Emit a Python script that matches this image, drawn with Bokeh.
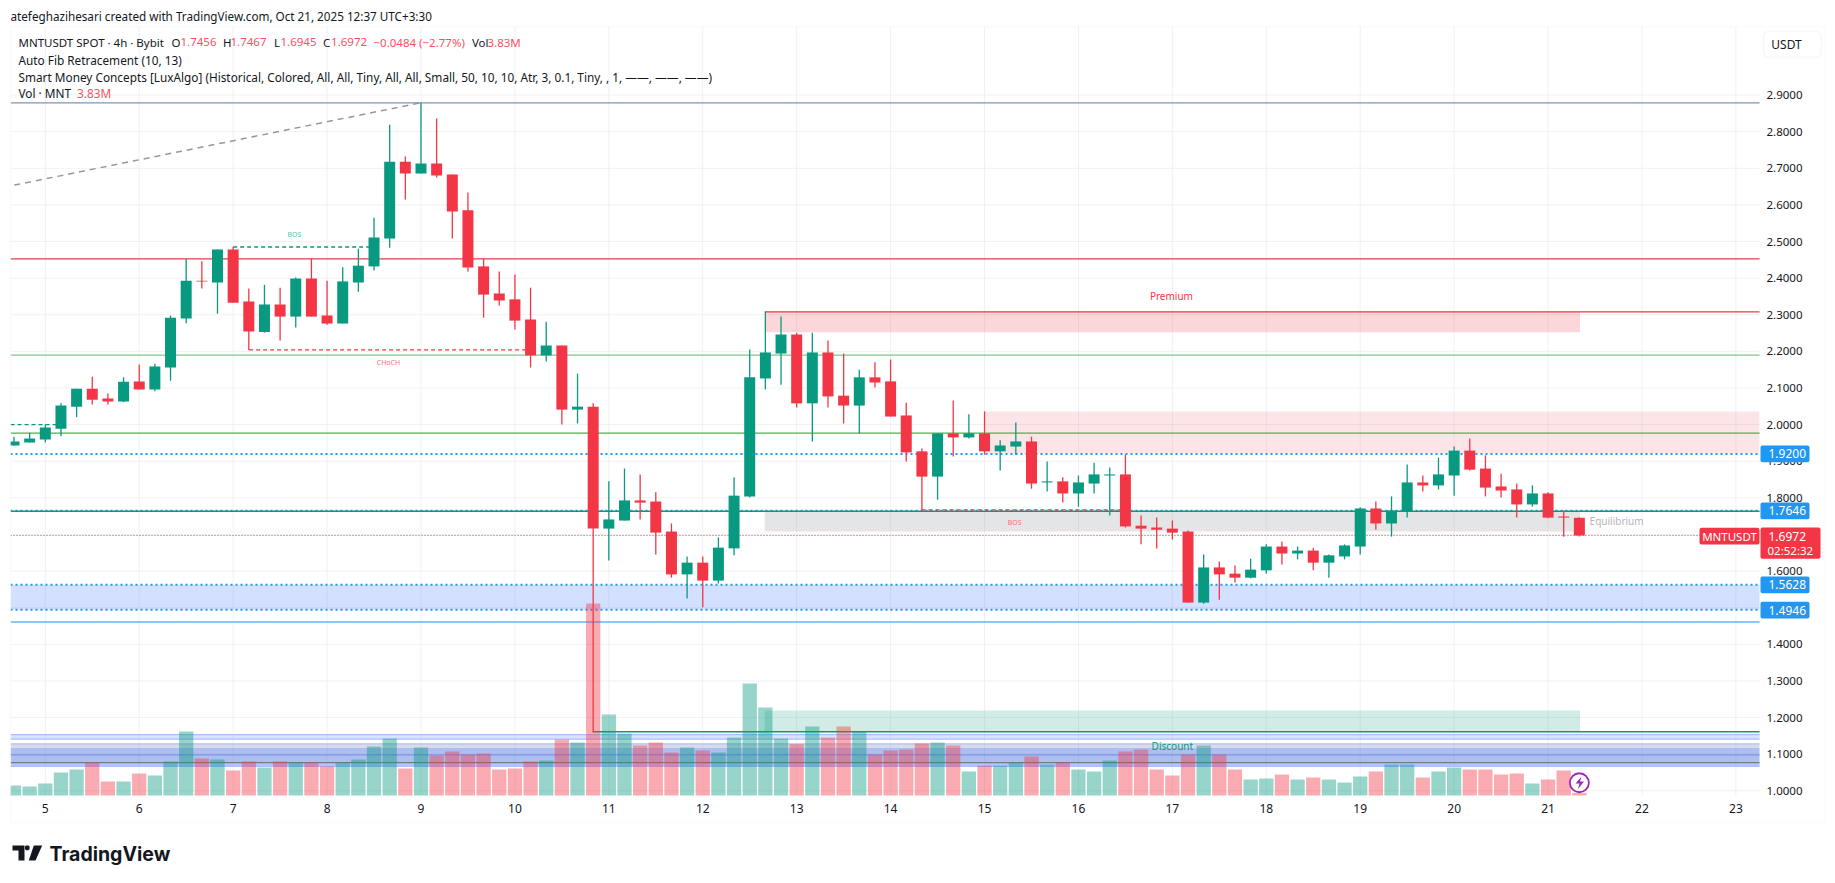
from bokeh.core.properties import value
from bokeh.embed import file_html
from bokeh.models import (BoxAnnotation, FixedTicker, Label, NumeralTickFormatter,
                          PolyAnnotation, Range1d)
from bokeh.plotting import figure
from bokeh.resources import INLINE

# 4h candles, first bar is Oct 4 on the day axis
opens = [1.943, 1.951, 1.959, 1.989, 2.049, 2.098, 2.071, 2.063, 2.118, 2.096, 2.156, 2.290,
         2.393, 2.388, 2.478, 2.336, 2.253, 2.328, 2.295, 2.399, 2.298, 2.276, 2.388, 2.432,
         2.508, 2.718, 2.686, 2.713, 2.683, 2.585, 2.432, 2.358, 2.342, 2.287, 2.189, 2.216,
         2.041, 2.049, 1.716, 1.738, 1.793, 1.790, 1.708, 1.591, 1.623, 1.574, 1.662, 1.804,
         2.126, 2.194, 2.246, 2.058, 2.197, 2.079, 2.052, 2.129, 2.118, 2.025, 1.927, 1.858,
         1.976, 1.965, 1.976, 1.927, 1.940, 1.954, 1.842, 1.845, 1.812, 1.839, 1.861, 1.864,
         1.724, 1.719, 1.716, 1.708, 1.514, 1.610, 1.593, 1.582, 1.602, 1.667, 1.648, 1.656,
         1.623, 1.640, 1.667, 1.771, 1.730, 1.763, 1.842, 1.834, 1.861, 1.929, 1.880, 1.831,
         1.823, 1.782, 1.812, 1.749, 1.7456]
highs = [1.967, 1.978, 2.000, 2.058, 2.098, 2.131, 2.085, 2.129, 2.164, 2.166, 2.298, 2.453,
         2.446, 2.478, 2.486, 2.372, 2.382, 2.374, 2.402, 2.453, 2.393, 2.430, 2.480, 2.565,
         2.819, 2.732, 2.879, 2.836, 2.683, 2.634, 2.453, 2.418, 2.410, 2.374, 2.281, 2.216,
         2.139, 2.058, 1.845, 1.880, 1.864, 1.815, 1.730, 1.640, 1.640, 1.692, 1.856, 2.205,
         2.308, 2.295, 2.251, 2.251, 2.230, 2.194, 2.150, 2.170, 2.178, 2.060, 1.935, 1.976,
         2.066, 2.028, 2.036, 1.957, 2.006, 1.967, 1.899, 1.856, 1.861, 1.896, 1.883, 1.918,
         1.752, 1.746, 1.738, 1.711, 1.645, 1.626, 1.615, 1.634, 1.673, 1.681, 1.667, 1.664,
         1.645, 1.673, 1.774, 1.790, 1.804, 1.891, 1.861, 1.910, 1.940, 1.962, 1.916, 1.866,
         1.839, 1.834, 1.815, 1.765, 1.7467]
lows = [1.943, 1.951, 1.951, 1.968, 2.020, 2.055, 2.055, 2.061, 2.096, 2.091, 2.120, 2.277,
        2.372, 2.303, 2.333, 2.204, 2.251, 2.230, 2.265, 2.295, 2.273, 2.276, 2.363, 2.421,
        2.483, 2.615, 2.686, 2.675, 2.508, 2.418, 2.292, 2.325, 2.260, 2.156, 2.172, 2.000,
        2.003, 1.160, 1.629, 1.738, 1.741, 1.645, 1.582, 1.525, 1.501, 1.566, 1.643, 1.801,
        2.096, 2.109, 2.047, 1.954, 2.047, 2.003, 1.976, 2.101, 2.022, 1.899, 1.765, 1.795,
        1.913, 1.962, 1.918, 1.875, 1.918, 1.825, 1.817, 1.787, 1.776, 1.812, 1.752, 1.719,
        1.673, 1.662, 1.686, 1.514, 1.511, 1.522, 1.569, 1.580, 1.593, 1.618, 1.632, 1.602,
        1.582, 1.632, 1.645, 1.713, 1.694, 1.746, 1.817, 1.823, 1.806, 1.875, 1.804, 1.801,
        1.746, 1.776, 1.744, 1.694, 1.6945]
closes = [1.954, 1.962, 1.992, 2.052, 2.098, 2.068, 2.063, 2.117, 2.096, 2.159, 2.292, 2.393,
          2.391, 2.478, 2.333, 2.254, 2.328, 2.295, 2.399, 2.295, 2.276, 2.391, 2.434, 2.511,
          2.718, 2.686, 2.713, 2.680, 2.582, 2.429, 2.355, 2.339, 2.284, 2.189, 2.216, 2.041,
          2.049, 1.716, 1.741, 1.793, 1.787, 1.705, 1.591, 1.623, 1.574, 1.664, 1.806, 2.129,
          2.197, 2.246, 2.058, 2.197, 2.077, 2.052, 2.129, 2.115, 2.022, 1.924, 1.858, 1.976,
          1.965, 1.976, 1.927, 1.943, 1.954, 1.839, 1.845, 1.812, 1.842, 1.864, 1.864, 1.722,
          1.716, 1.713, 1.705, 1.514, 1.610, 1.591, 1.582, 1.604, 1.667, 1.648, 1.656, 1.623,
          1.643, 1.670, 1.771, 1.730, 1.765, 1.842, 1.834, 1.864, 1.929, 1.877, 1.828, 1.820,
          1.782, 1.812, 1.746, 1.746, 1.6972]
volumes = [14.4, 13.0, 17.3, 33.1, 37.4, 47.0, 20.2, 20.2, 31.7, 28.8, 49.0, 92.2,
           53.3, 51.8, 36.0, 49.0, 40.3, 49.0, 47.5, 47.5, 42.2, 47.5, 51.8, 70.6,
           82.1, 38.9, 69.1, 57.6, 63.4, 59.0, 60.5, 37.4, 38.9, 49.0, 50.4, 80.6,
           76.3, 276.5, 116.6, 89.3, 72.0, 76.3, 61.9, 69.1, 64.8, 61.9, 83.5, 161.3,
           126.7, 82.1, 73.9, 99.4, 83.5, 99.4, 92.2, 59.0, 64.8, 66.2, 74.9, 76.3,
           72.0, 34.6, 43.2, 43.2, 47.5, 56.2, 44.6, 47.5, 37.4, 34.6, 50.4, 63.4,
           66.2, 37.4, 28.8, 59.0, 72.0, 59.0, 37.4, 23.0, 24.5, 30.2, 23.0, 25.9,
           23.0, 18.7, 27.4, 34.6, 44.6, 44.6, 25.9, 34.6, 40.3, 37.4, 37.4, 30.2,
           31.7, 17.3, 23.0, 36.0, 3.83]

price_ticks = [1.0, 1.1, 1.2, 1.3, 1.4, 1.5, 1.6, 1.7, 1.8, 1.9, 2.0, 2.1, 2.2, 2.3, 2.4,
               2.5, 2.6, 2.7, 2.8, 2.9]
day_ticks = [5, 6, 7, 8, 9, 10, 11, 12, 13, 14, 15, 16, 17, 18, 19, 20, 21, 22, 23]

# solid horizontal levels that run across the pane
level_prices = [2.8786, 2.4525, 2.190, 1.977, 1.461, 1.098, 1.077]
level_colors = ["#8290c0", "#f23645", "#81c784", "#4caf50", "#64b5f6", "#7d97e6", "#787b86"]
# dotted order lines
dotted_prices = [1.9200, 1.7658, 1.5628, 1.4946]
dotted_widths = [2, 1.2, 2, 2]

# smart money zones: start day, end day, top, bottom
zone_left = [12.66, 15.0, 12.66, 12.66]
zone_right = [21.34, 23.25, 21.34, 21.34]
zone_top = [2.308, 2.036, 1.763, 1.219]
zone_bottom = [2.2525, 1.921, 1.708, 1.161]
zone_colors = ["#f23645", "#f23645", "#787b86", "#089981"]
zone_alphas = [0.2, 0.13, 0.2, 0.19]

# blue fib bands on the whole width
band_top = [1.5628, 1.1537, 1.128, 1.117, 1.077]
band_bottom = [1.4946, 1.141, 1.117, 1.077, 1.067]
band_colors = ["#2962ff", "#2962ff", "#5b6fc0", "#2a55d8", "#2962ff"]
band_alphas = [0.2, 0.18, 0.25, 0.38, 0.36]
band_edges = [1.1537, 1.141, 1.128, 1.067]
band_edge_colors = ["#a9c1fb", "#a9c1fb", "#b4bfe0", "#a9c1fb"]

# dashed structure lines
dash_x0 = [4.63, 7.0, 7.17, 14.33]
dash_x1 = [5.17, 8.5, 10.17, 16.5]
dash_price = [2.000, 2.485, 2.204, 1.767]
dash_colors = ["#089981", "#089981", "#f23645", "#f23645"]

trend_days = [4.67, 9.0]
trend_prices = [2.654, 2.879]

note_texts = ["BOS", "CHoCH", "BOS", "Premium", "Equilibrium", "Discount"]
note_days = [7.653, 8.654, 15.32, 16.99, 21.73, 17.0]
note_prices = [2.519, 2.170, 1.733, 2.351, 1.736, 1.122]
note_sizes = ["7px", "7px", "7px", "10px", "10px", "10px"]
note_colors = ["#5cbdae", "#f7707c", "#f7707c", "#f23645", "#b2b5be", "#089981"]

bar_days = [4 + 4 / 6 + i / 6 for i in range(len(opens))]
tops = [max(o, c) for o, c in zip(opens, closes)]
bottoms = [min(o, c) for o, c in zip(opens, closes)]
colors = ["#089981" if c >= o else "#f23645" for o, c in zip(opens, closes)]

FONT = "Noto Sans"
GRID = "#f0f1f3"
X0, X1 = 4.6295, 23.2519  # pane edges
Y0, Y1 = 0.9872, 3.0871

# the frame is the whole page so that the header and the price tags are not cut off,
# the axes sit on its far edges and pull their labels back in with a negative standoff
p = figure(width=1835, height=883, x_range=(4.523, 24.0605), y_range=(0.7469, 3.1581),
           output_backend="svg", toolbar_location=None, y_axis_location="right",
           min_border=0, background_fill_color="white", border_fill_color="white",
           outline_line_color=None)

p.extra_y_ranges = {"vol": Range1d(-126.7, 1144.8)}

p.xaxis.ticker = FixedTicker(ticks=day_ticks)
p.yaxis.ticker = FixedTicker(ticks=price_ticks)
p.yaxis.formatter = NumeralTickFormatter(format="0.0000")
for ax in [p.xaxis[0], p.yaxis[0]]:
    ax.axis_line_color = None
    ax.major_tick_line_color = None
    ax.minor_tick_line_color = None
    ax.major_tick_out = 0
    ax.major_label_text_color = "#131722"
    ax.major_label_text_font = FONT
    ax.major_label_text_font_size = "12px"
p.yaxis.major_label_text_font_size = "11.5px"
p.yaxis.major_label_standoff = -69
p.xaxis.major_label_standoff = -80
p.grid.visible = False

# grid
p.segment(x0=day_ticks, x1=day_ticks, y0=[Y0] * len(day_ticks), y1=[Y1] * len(day_ticks),
          line_color=GRID, line_width=1)
p.segment(x0=[X0] * len(price_ticks), x1=[X1] * len(price_ticks), y0=price_ticks, y1=price_ticks,
          line_color=GRID, line_width=1)

# zones and bands
p.quad(left=zone_left, right=zone_right, top=zone_top, bottom=zone_bottom,
       fill_color=zone_colors, fill_alpha=zone_alphas, line_color=None)
p.quad(left=[X0] * len(band_top), right=[X1] * len(band_top), top=band_top, bottom=band_bottom,
       fill_color=band_colors, fill_alpha=band_alphas, line_color=None)

# level lines
p.segment(x0=[X0] * len(level_prices), x1=[X1] * len(level_prices), y0=level_prices, y1=level_prices,
          line_color=level_colors, line_width=1.3)
p.segment(x0=[X0] * 4, x1=[X1] * 4, y0=band_edges, y1=band_edges,
          line_color=band_edge_colors, line_width=1.3)
p.segment(x0=[12.66], x1=[X1], y0=[2.308], y1=[2.308], line_color="#f23645", line_width=1.3)
p.segment(x0=[10.83], x1=[X1], y0=[1.161], y1=[1.161], line_color="#089981", line_width=1.5)
p.segment(x0=[X0], x1=[X1], y0=[closes[-1]], y1=[closes[-1]], line_color="#f23645",
          line_width=1, line_dash=value([1, 2]))
p.segment(x0=[X0] * 4, x1=[X1] * 4, y0=dotted_prices, y1=dotted_prices, line_color="#2196f3",
          line_width=dotted_widths, line_dash=value([2, 3]))
p.segment(x0=[X0], x1=[X1], y0=[1.7632], y1=[1.7632], line_color="#089981", line_width=1.4)
p.segment(x0=dash_x0, x1=dash_x1, y0=dash_price, y1=dash_price, line_color=dash_colors,
          line_width=1.3, line_dash=value([4, 3]))
p.line(trend_days, trend_prices, line_color="#9598a1", line_width=1.5, line_dash=[6, 5])

# volume
p.vbar(x=bar_days, top=volumes, bottom=0, width=0.152, fill_color=colors, fill_alpha=0.42,
       line_color=None, y_range_name="vol")

# candles
p.segment(x0=bar_days, x1=bar_days, y0=lows, y1=highs, line_color=colors, line_width=1.3)
p.vbar(x=bar_days, top=tops, bottom=bottoms, width=0.117, fill_color=colors, line_color=None)

p.text(x=note_days, y=note_prices, text=note_texts, text_font_size=note_sizes, text_color=note_colors,
       text_font=value(FONT), text_align="center", text_baseline="middle")

# bolt marker at the last bar
p.scatter(x=[bar_days[-1]], y=[1.022], size=19, marker="circle", fill_color="white",
          line_color="#9c27b0", line_width=1.8)


def box(left, right, top, bottom, color=None, line=None, radius=2):
    p.add_layout(BoxAnnotation(left=left, right=right, top=top, bottom=bottom,
                               left_units="canvas", right_units="canvas", top_units="canvas",
                               bottom_units="canvas", fill_color=color, fill_alpha=1.0 if color else 0.0,
                               line_color=line, line_width=1.5 if line else 0, border_radius=radius,
                               level="annotation"))


def label(x, y, text, color="#131722", size=13, align="left", style="normal", font=FONT):
    p.add_layout(Label(x=x, y=y, x_units="canvas", y_units="canvas", text=text,
                       text_color=color, text_font=font, text_font_size=f"{size}px",
                       text_align=align, text_baseline="middle", text_font_style=style))


# cut the first bar at the pane edge, then the outer chart border
box(0, 10, 26, 822, "white", None, 0)
box(10, 1825, 26, 822, None, GRID, 0)

# price tags on the scale
for price_text, y0, y1 in [("1.9200", 445, 461.7), ("1.7646", 502, 518.7), ("1.5628", 576, 592.7),
                           ("1.4946", 601.3, 618)]:
    box(1760, 1809, y0, y1, "#2196f3")
    label(1768, (y0 + y1) / 2, price_text, "white", 12)
box(1699, 1759, 527.3, 544, "#f23645")
label(1729, 535.6, "MNTUSDT", "white", 11.5, "center")
box(1760, 1820, 527, 558.3, "#f23645")
label(1768, 535.6, "1.6972", "white", 12)
label(1767, 549.5, "02:52:32", "white", 11.5)

# currency button
box(1763, 1821, 31, 56.7, "white", "#e0e3eb", 5)
label(1786, 44, "USDT", "#131722", 12, "center")

# header
label(10, 15, "atefeghazihesari created with TradingView.com, Oct 21, 2025 12:37 UTC+3:30", "#131722", 11.7)
RED = "#f7525f"
for x, text, color in [(18, "MNTUSDT SPOT \u00b7 4h \u00b7 Bybit", "#131722"), (171, "O", "#131722"),
                       (180, "1.7456", RED), (222.4, "H", "#131722"), (230, "1.7467", RED),
                       (273.5, "L", "#131722"), (280, "1.6945", RED), (322.4, "C", "#131722"),
                       (330.6, "1.6972", RED), (373, "\u22120.0484 (\u22122.77%)", RED),
                       (471.4, "Vol", "#131722"), (487, "3.83M", RED)]:
    label(x, 41.7, text, color, 11.5)
label(18, 59, "Auto Fib Retracement (10, 13)", "#131722", 11.8)
label(18, 76, "Smart Money Concepts [LuxAlgo] (Historical, Colored, All, All, Tiny, All, All, Small, 50, 10, 10, "
              "Atr, 3, 0.1, Tiny, , 1, \u2014\u2014, \u2014\u2014, \u2014\u2014)", "#131722", 11.8)
label(18, 92.7, "Vol \u00b7 MNT", "#131722", 11.8)
label(76.5, 92.7, "3.83M", RED, 11.8)

# logo
label(49, 853, "TradingView", "#131722", 19.5, style="bold", font="Inter")
for xs, ys in [([12, 24, 24, 18, 18, 12], [845, 845, 860, 860, 850, 850]),
               ([33.3, 41.7, 35, 28.3], [845, 845, 860, 860]),
               ([25.5, 28, 29, 29, 28, 25.5, 24.5, 24.5], [845, 845, 846, 848.5, 849.7, 849.7, 848.5, 846])]:
    p.add_layout(PolyAnnotation(xs=xs, ys=ys, xs_units="canvas", ys_units="canvas",
                                fill_color="#131722", fill_alpha=1, line_color=None))
p.add_layout(PolyAnnotation(xs=[1581, 1575, 1579, 1577.5, 1583.5, 1579.5],
                            ys=[776, 783, 783, 788.5, 781, 781], xs_units="canvas",
                            ys_units="canvas", fill_color="#9c27b0", fill_alpha=1, line_color=None))

open("out.html", "w").write(file_html(p, INLINE))
